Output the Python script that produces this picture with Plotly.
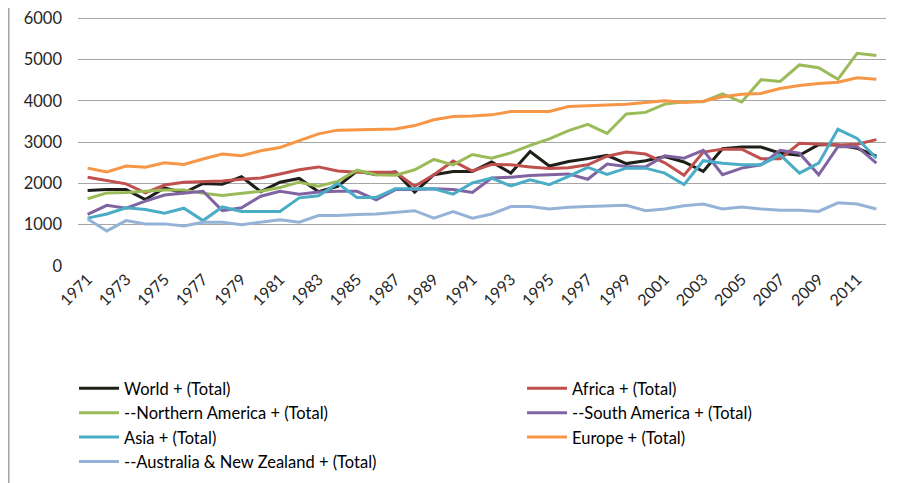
import plotly.graph_objects as go

years = list(range(1971, 2013))

world = [1830, 1850, 1850, 1610, 1890, 1770, 2000, 1980, 2160, 1800,
         2030, 2120, 1800, 1930, 2300, 2210, 2280, 1790, 2210, 2290,
         2290, 2520, 2250, 2770, 2420, 2530, 2600, 2680, 2480, 2550,
         2650, 2520, 2290, 2840, 2880, 2880, 2730, 2680, 2940, 2930,
         2850, 2660]
africa = [2150, 2070, 1990, 1770, 1960, 2030, 2050, 2060, 2100, 2130,
          2230, 2330, 2400, 2300, 2270, 2270, 2270, 1930, 2210, 2540,
          2300, 2460, 2450, 2400, 2360, 2380, 2450, 2660, 2760, 2710,
          2500, 2200, 2760, 2830, 2830, 2600, 2600, 2970, 2950, 2930,
          2950, 3060]
n_america = [1630, 1770, 1780, 1810, 1840, 1840, 1760, 1710, 1760, 1810,
             1900, 2030, 1930, 2050, 2320, 2210, 2200, 2330, 2580, 2450,
             2700, 2610, 2740, 2920, 3080, 3280, 3430, 3210, 3680, 3720,
             3920, 3980, 3980, 4170, 3970, 4510, 4470, 4870, 4800, 4520,
             5150, 5100]
s_america = [1250, 1470, 1400, 1570, 1720, 1770, 1810, 1340, 1410, 1690,
             1810, 1740, 1790, 1810, 1810, 1600, 1850, 1850, 1870, 1850,
             1780, 2130, 2150, 2190, 2210, 2230, 2100, 2470, 2410, 2400,
             2670, 2610, 2800, 2210, 2370, 2450, 2800, 2730, 2210, 2890,
             2890, 2490]
asia = [1160, 1260, 1410, 1370, 1280, 1400, 1100, 1430, 1320, 1320,
        1320, 1650, 1700, 2000, 1660, 1660, 1870, 1870, 1870, 1740,
        2010, 2130, 1940, 2090, 1970, 2170, 2390, 2220, 2370, 2370,
        2250, 1970, 2550, 2490, 2450, 2450, 2690, 2250, 2490, 3310,
        3090, 2610]
europe = [2370, 2280, 2420, 2390, 2500, 2460, 2590, 2710, 2670, 2790,
          2870, 3030, 3200, 3290, 3300, 3300, 3320, 3400, 3540, 3620,
          3630, 3660, 3740, 3740, 3740, 3860, 3880, 3900, 3920, 3960,
          4000, 3960, 3990, 4100, 4160, 4180, 4300, 4370, 4420, 4450,
          4560, 4520]
aus_nz = [1140, 850, 1100, 1020, 1020, 970, 1060, 1060, 1000, 1060,
          1120, 1060, 1220, 1220, 1250, 1260, 1300, 1340, 1160, 1320,
          1160, 1260, 1440, 1440, 1380, 1420, 1440, 1460, 1470, 1340,
          1380, 1460, 1500, 1380, 1430, 1380, 1350, 1350, 1320, 1530,
          1500, 1380]

series_names = ["World + (Total)", "Africa + (Total)", "--Northern America + (Total)",
                "--South America + (Total)", "Asia + (Total)", "Europe + (Total)",
                "--Australia & New Zealand + (Total)"]
series_values = [world, africa, n_america, s_america, asia, europe, aus_nz]
series_colors = ["#1f1f1a", "#c0504d", "#9bbb59", "#8064a2", "#4bacc6", "#f79646", "#95b3d7"]
series_legend = ["legend", "legend2", "legend", "legend2", "legend", "legend2", "legend"]

y_ticks = [0, 1000, 2000, 3000, 4000, 5000, 6000]
x_tick_labels = [str(y) for y in years if y % 2 == 1]

fig = go.Figure()
for name, vals, col, lg in zip(series_names, series_values, series_colors, series_legend):
    fig.add_trace(go.Scatter(x=[str(y) for y in years], y=vals, name=name, mode="lines",
                             line=dict(color=col, width=3), legend=lg))

font_family = "Lato, 'Liberation Sans', sans-serif"
legend_style = dict(orientation="v", yanchor="top", xanchor="left",
                    xref="container", yref="container",
                    font=dict(size=16.5, color="#000000", family=font_family),
                    traceorder="normal", itemwidth=40, bgcolor="rgba(0,0,0,0)")

# page body has an 8px default margin, so the figure is sized to fit the window
fig.update_layout(
    width=896, height=475,
    margin=dict(l=70, r=18, t=9, b=217, autoexpand=False),
    paper_bgcolor="white", plot_bgcolor="white",
    font=dict(family=font_family, size=16, color="#262626"),
    xaxis=dict(type="category", tickmode="array", tickvals=x_tick_labels,
               ticktext=x_tick_labels, tickangle=-45, showgrid=False,
               showline=False, zeroline=False, ticks="",
               tickfont=dict(size=16, color="#262626"),
               range=[-0.5, len(years) - 0.5]),
    yaxis=dict(range=[0, 6030], tickvals=y_ticks, showgrid=True,
               gridcolor="#a6a6a6", gridwidth=1, zeroline=False, showline=False,
               ticks="", ticklabelstandoff=15, ticklabeloverflow="allow",
               tickfont=dict(size=16.5, color="#262626")),
    legend=dict(x=0.0737, y=0.2358, **legend_style),
    legend2=dict(x=0.5737, y=0.2358, **legend_style),
    showlegend=True,
    shapes=[dict(type="line", xref="paper", yref="paper",
                 x0=-0.0857, x1=-0.0857, y0=-1.0, y1=1.04,
                 line=dict(color="#a6a6a6", width=1.5))],
)

fig.write_html("out.html")
